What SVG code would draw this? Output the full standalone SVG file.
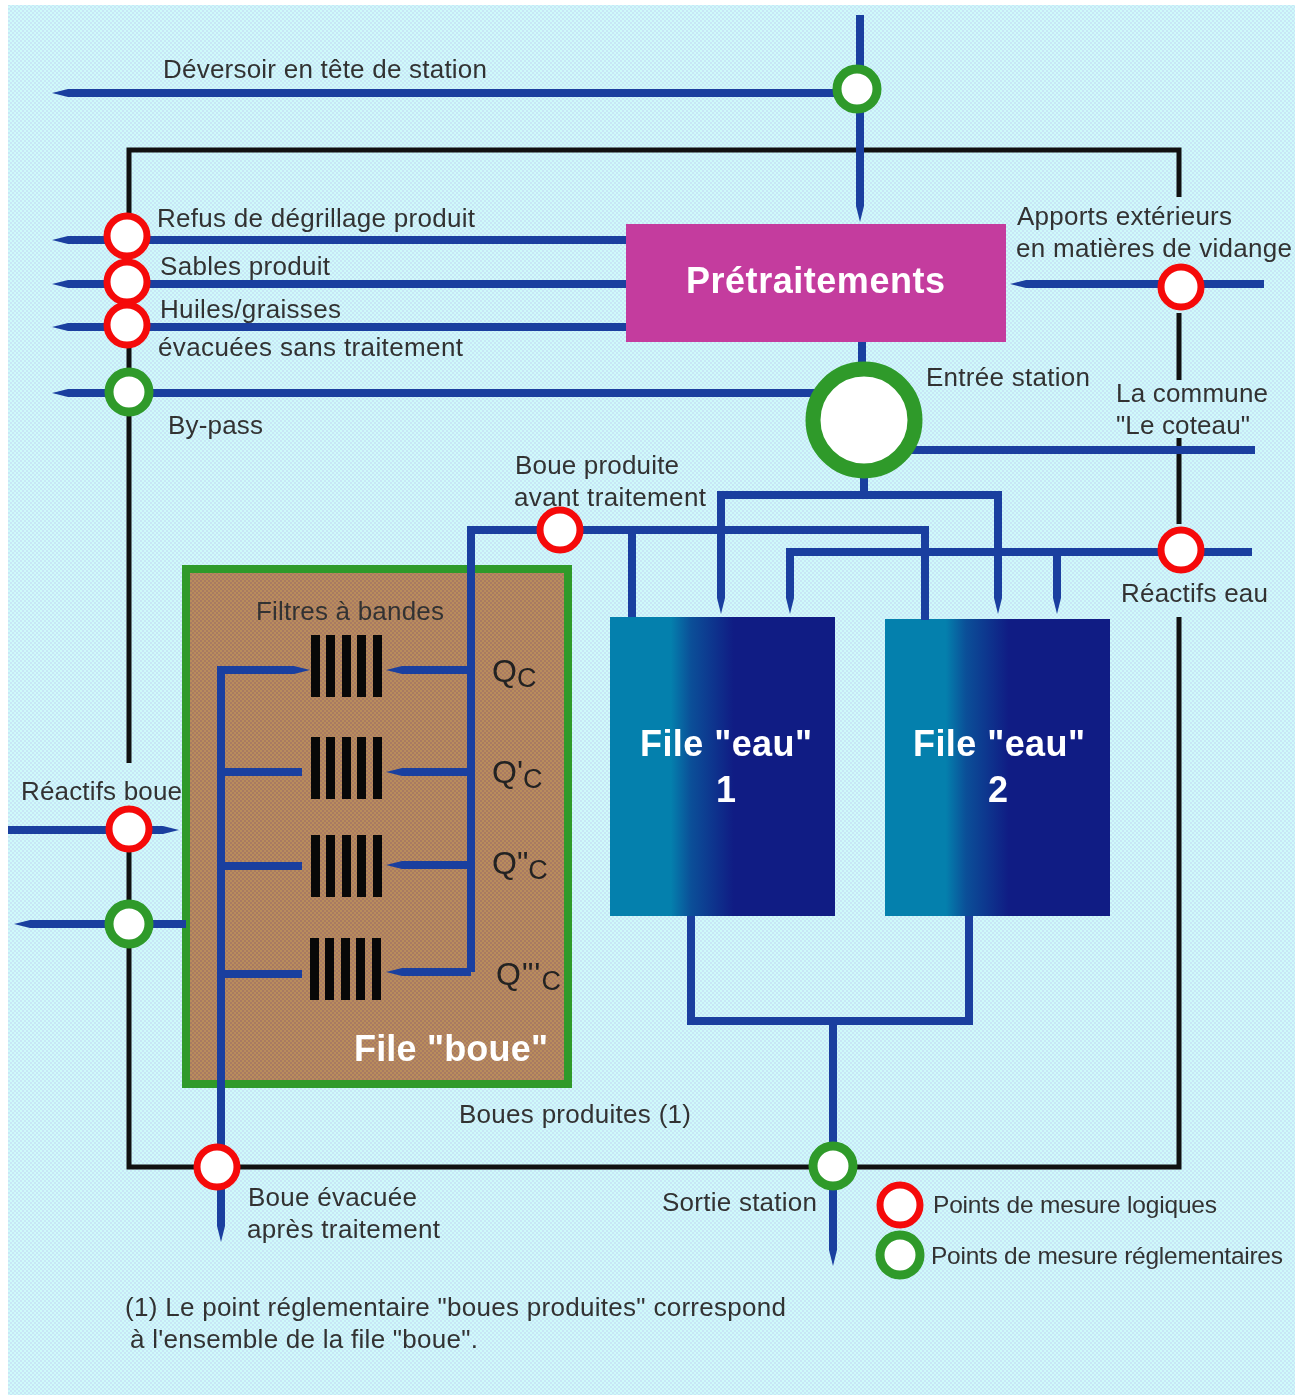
<svg xmlns="http://www.w3.org/2000/svg" width="1309" height="1398" viewBox="0 0 1309 1398">
<style>
text{font-family:"Liberation Sans",Arial,sans-serif;font-size:26px;fill:#333;filter:url(#soft);transform:translateY(1px)}
.w{fill:#fff;font-weight:bold;font-size:36px}
.q{fill:#222;font-size:32px}
.q tspan{font-size:27px}
.s{font-size:24.5px}
.b{fill:none;stroke:#1a3f9f;stroke-width:8}
.t{marker-end:url(#tip)}
.k{fill:none;stroke:#111;stroke-width:5}
.red{fill:#fff;stroke:#f50a0a;stroke-width:7}
.grn{fill:#fff;stroke:#2f9a2a;stroke-width:9}
.bar{fill:#080808}
</style>
<defs>
<filter id="soft" x="-5%" y="-20%" width="110%" height="140%"><feGaussianBlur stdDeviation="0.6"/></filter>
<marker id="tip" markerWidth="2" markerHeight="1" refX="0" refY="0.5" orient="auto" viewBox="0 0 2 1"><path d="M0 0L2 .5L0 1z" fill="#1a3f9f"/></marker>
<pattern id="sky" width="4" height="4" patternUnits="userSpaceOnUse"><rect width="4" height="4" fill="#cffafa"/><rect width="2" height="2" fill="#c8e6f6"/><rect x="2" y="2" width="2" height="2" fill="#c8e6f6"/></pattern>
<pattern id="mud" width="4" height="4" patternUnits="userSpaceOnUse"><rect width="4" height="4" fill="#b98d5c"/><rect width="2" height="2" fill="#a97a62"/><rect x="2" y="2" width="2" height="2" fill="#a97a62"/></pattern>
<linearGradient id="fe"><stop offset="0.27" stop-color="#0480ad"/><stop offset="0.36" stop-color="#0b4f98"/><stop offset="0.55" stop-color="#101c84"/></linearGradient>
</defs>
<rect width="1309" height="1398" fill="#fff"/>
<rect x="8" y="5" width="1287" height="1390" fill="url(#sky)"/>

<g id="frame">
<path class="k" d="M129 763V150H1179V197"/>
<path class="k" d="M1179 313V380M1179 438V524M1179 617V1167H129V835"/>
</g>

<g id="file-boue">
<rect x="186" y="569" width="382" height="515" fill="url(#mud)" stroke="#2f9a2a" stroke-width="8"/>
<text x="354" y="1060" class="w" textLength="194">File "boue"</text>
<text x="256" y="619" textLength="188">Filtres à bandes</text>
</g>
<g id="pretraitements">
<rect x="626" y="224" width="380" height="118" fill="#c43c9e"/>
<text x="686" y="292" class="w" textLength="259">Prétraitements</text>
</g>
<g id="file-eau-1">
<rect x="610" y="617" width="225" height="299" fill="url(#fe)"/>
<text x="640" y="755" class="w" textLength="172">File "eau"</text>
<text x="726" y="801" class="w" text-anchor="middle">1</text>
</g>
<g id="file-eau-2">
<rect x="885" y="619" width="225" height="297" fill="url(#fe)"/>
<text x="913" y="755" class="w" textLength="172">File "eau"</text>
<text x="998" y="801" class="w" text-anchor="middle">2</text>
</g>

<g id="connectors">
<path class="b t" d="M860 15V206"/>
<path class="b t" d="M840 93H68"/>
<path class="b t" d="M626 240H68"/>
<path class="b t" d="M626 284H68"/>
<path class="b t" d="M626 327H68"/>
<path class="b t" d="M815 393H68"/>
<path class="b" d="M862 342V370"/>
<path class="b t" d="M1264 284H1026"/>
<path class="b" d="M910 450H1255"/>
<path class="b" d="M864 470V495"/>
<path class="b t" d="M998 495H721V598"/>
<path class="b t" d="M998 491V598"/>
<path class="b" d="M471 972V530H925V620"/>
<path class="b" d="M632 530V617"/>
<path class="b t" d="M1252 552H790V598"/>
<path class="b t" d="M1057 552V598"/>
<path class="b t" d="M221 666V1226"/>
<path class="b t" d="M217 670H294"/>
<path class="b" d="M221 772H302M221 866H302M221 974H302"/>
<path class="b t" d="M471 670H402"/>
<path class="b t" d="M471 772H402"/>
<path class="b t" d="M471 865H402"/>
<path class="b t" d="M471 972H402"/>
<path class="b" d="M691 916V1021H969V916"/>
<path class="b t" d="M833 1021V1250"/>
<path class="b t" d="M8 830H163"/>
<path class="b t" d="M186 924H30"/>
</g>

<g id="filtres" class="bar">
<path d="M311 635h9v62h-9zM326 635h9v62h-9zM342 635h9v62h-9zM357 635h9v62h-9zM373 635h9v62h-9z"/>
<path d="M311 737h9v62h-9zM326 737h9v62h-9zM342 737h9v62h-9zM357 737h9v62h-9zM373 737h9v62h-9z"/>
<path d="M311 835h9v62h-9zM326 835h9v62h-9zM342 835h9v62h-9zM357 835h9v62h-9zM373 835h9v62h-9z"/>
<path d="M310 938h9v62h-9zM325 938h9v62h-9zM341 938h9v62h-9zM356 938h9v62h-9zM372 938h9v62h-9z"/>
</g>
<g id="debits">
<text x="492" y="681" class="q">Q<tspan dy="5">C</tspan></text>
<text x="492" y="782" class="q">Q'<tspan dy="5">C</tspan></text>
<text x="492" y="873" class="q">Q"<tspan dy="5">C</tspan></text>
<text x="496" y="984" class="q" textLength="65">Q"'<tspan dy="5">C</tspan></text>
</g>

<g id="m-deversoir"><circle class="grn" cx="857" cy="89" r="20"/><text x="163" y="77" textLength="324">Déversoir en tête de station</text></g>
<g id="m-refus"><circle class="red" cx="127" cy="236" r="20"/><text x="157" y="226" textLength="318">Refus de dégrillage produit</text></g>
<g id="m-sables"><circle class="red" cx="127" cy="282" r="20"/><text x="160" y="274" textLength="170">Sables produit</text></g>
<g id="m-huiles"><circle class="red" cx="127" cy="325" r="20"/><text x="160" y="317" textLength="181">Huiles/graisses</text><text x="158" y="355" textLength="305">évacuées sans traitement</text></g>
<g id="m-bypass"><circle class="grn" cx="129" cy="392" r="20"/><text x="168" y="433" textLength="95">By-pass</text></g>
<g id="m-apports"><circle class="red" cx="1181" cy="287" r="20"/><text x="1017" y="224" textLength="215">Apports extérieurs</text><text x="1016" y="256" textLength="276">en matières de vidange</text></g>
<g id="m-entree"><circle cx="864" cy="420" r="51" fill="#fff" stroke="#2f9a2a" stroke-width="15"/><text x="926" y="385" textLength="164">Entrée station</text></g>
<g id="m-commune"><text x="1116" y="401" textLength="152">La commune</text><text x="1116" y="433" textLength="134">"Le coteau"</text></g>
<g id="m-boue-produite"><circle class="red" cx="560" cy="530" r="20"/><text x="515" y="473" textLength="164">Boue produite</text><text x="514" y="505" textLength="192">avant traitement</text></g>
<g id="m-reactifs-eau"><circle class="red" cx="1181" cy="550" r="20"/><text x="1121" y="601" textLength="147">Réactifs eau</text></g>
<g id="m-reactifs-boue"><circle class="red" cx="129" cy="829" r="20"/><text x="21" y="799" textLength="161">Réactifs boue</text></g>
<g id="m-boue-sortie"><circle class="grn" cx="129" cy="924" r="20"/></g>
<g id="m-boue-evacuee"><circle class="red" cx="217" cy="1167" r="20"/><text x="248" y="1205" textLength="169">Boue évacuée</text><text x="247" y="1237" textLength="193">après traitement</text></g>
<g id="m-sortie"><circle class="grn" cx="833" cy="1166" r="20"/><text x="662" y="1210" textLength="155">Sortie station</text></g>
<g id="boues-produites"><text x="459" y="1122" textLength="232">Boues produites (1)</text></g>
<g id="legende">
<circle class="red" cx="900" cy="1205" r="20"/><text x="933" y="1212" class="s" textLength="284">Points de mesure logiques</text>
<circle class="grn" cx="900" cy="1255" r="20"/><text x="931" y="1263" class="s" textLength="352">Points de mesure réglementaires</text>
</g>
<g id="note"><text x="125" y="1315" textLength="661">(1) Le point réglementaire "boues produites" correspond</text><text x="130" y="1347" textLength="348">à l'ensemble de la file "boue".</text></g>
</svg>
